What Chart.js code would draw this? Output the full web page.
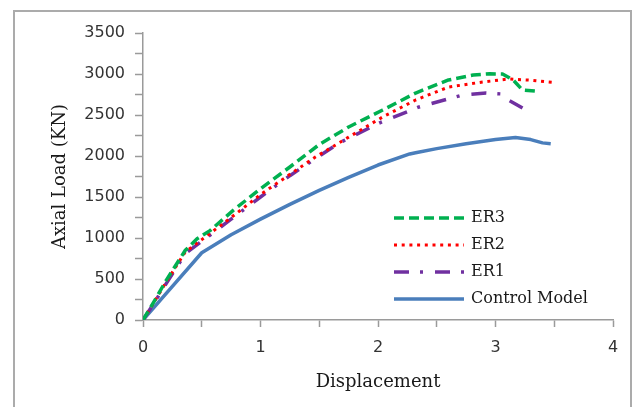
<!DOCTYPE html>
<html>
<head>
<meta charset="utf-8">
<script src="https://cdn.jsdelivr.net/npm/chart.js@4.4.1/dist/chart.umd.min.js"></script>
<style>
  html, body { margin: 0; padding: 0; background: #fff; }
  #wrap { position: relative; width: 636px; height: 407px; overflow: hidden; }
  #frame { position: absolute; left: 13px; top: 10px; width: 619px; height: 420px; border: 2px solid #ababab; box-sizing: border-box; }
  #c { position: absolute; left: 0; top: 0; }
</style>
</head>
<body>
<div id="wrap">
  <div id="frame"></div>
  <canvas id="c" width="636" height="407"></canvas>
</div>
<script>
// values
const er3X = [0, 0.1, 0.2, 0.36, 0.46, 0.57, 0.77, 1.0, 1.25, 1.5, 1.75, 2.04, 2.32, 2.6, 2.81, 2.95, 3.06, 3.15, 3.23, 3.35];
const er3Y = [0, 240, 490, 850, 990, 1090, 1340, 1600, 1866, 2140, 2354, 2561, 2768, 2927, 2988, 3002, 3000, 2927, 2805, 2790];

const er2X = [0, 0.1, 0.2, 0.36, 0.5, 0.75, 1.0, 1.28, 1.47, 1.75, 2.04, 2.32, 2.6, 2.89, 3.11, 3.3, 3.48];
const er2Y = [0, 230, 470, 830, 980, 1250, 1530, 1805, 1990, 2230, 2476, 2683, 2841, 2902, 2939, 2925, 2900];

const er1X = [0, 0.1, 0.2, 0.36, 0.5, 0.75, 1.0, 1.25, 1.5, 1.67, 2.01, 2.35, 2.72, 2.92, 3.06, 3.11, 3.23];
const er1Y = [0, 220, 450, 810, 960, 1230, 1500, 1760, 2000, 2159, 2402, 2598, 2744, 2768, 2756, 2683, 2585];

const ctrlX = [0, 0.25, 0.5, 0.75, 1.0, 1.25, 1.5, 1.75, 2.0, 2.27, 2.32, 2.5, 2.75, 3.0, 3.17, 3.3, 3.4, 3.47];
const ctrlY = [0, 410, 820, 1040, 1230, 1410, 1580, 1740, 1890, 2025, 2040, 2090, 2150, 2200, 2225, 2200, 2160, 2150];

const seriesNames = ['ER3', 'ER2', 'ER1', 'Control Model'];

function pts(xs, ys) {
  return xs.map((x, i) => ({ x: x, y: ys[i] }));
}

// legend drawn inside the plot, like the original
const innerLegend = {
  id: 'innerLegend',
  afterDatasetsDraw(chart) {
    const ctx = chart.ctx;
    ctx.save();
    ctx.font = '16px "DejaVu Serif"';
    ctx.textBaseline = 'middle';
    chart.data.datasets.forEach((ds, i) => {
      const y = 218 + i * 27;
      ctx.strokeStyle = ds.borderColor;
      ctx.lineWidth = ds.borderWidth;
      ctx.setLineDash(ds.borderDash || []);
      ctx.beginPath();
      ctx.moveTo(394, y);
      ctx.lineTo(464, y);
      ctx.stroke();
      ctx.setLineDash([]);
      ctx.fillStyle = '#1a1a1a';
      ctx.fillText(ds.label, 471, y);
    });
    ctx.restore();
  }
};

const axisGray = '#9a9a9a';

new Chart(document.getElementById('c'), {
  type: 'scatter',
  data: {
    datasets: [
      { label: seriesNames[0], data: pts(er3X, er3Y), borderColor: '#00B050', borderWidth: 3.5, borderDash: [10, 5] },
      { label: seriesNames[1], data: pts(er2X, er2Y), borderColor: '#FF0000', borderWidth: 3, borderDash: [3, 4.7] },
      { label: seriesNames[2], data: pts(er1X, er1Y), borderColor: '#7030A0', borderWidth: 3.5, borderDash: [15, 11, 3, 12] },
      { label: seriesNames[3], data: pts(ctrlX, ctrlY), borderColor: '#4A7EBB', borderWidth: 3.5 }
    ]
  },
  options: {
    responsive: false,
    animation: false,
    showLine: true,
    elements: {
      point: { radius: 0, hoverRadius: 0 },
      line: { tension: 0, fill: false, borderJoinStyle: 'round' }
    },
    layout: { padding: { left: 0, right: 23, top: 33, bottom: 0 } },
    plugins: { legend: { display: false }, tooltip: { enabled: false } },
    scales: {
      x: {
        type: 'linear',
        min: 0, max: 4,
        afterFit: s => { s.height = 87; },
        border: { color: axisGray, width: 1.5 },
        grid: { drawOnChartArea: false, tickLength: 7, color: axisGray, tickWidth: 1.5 },
        ticks: {
          stepSize: 0.5, autoSkip: false, padding: 11, color: '#333',
          font: { family: 'DejaVu Sans', size: 16 },
          callback: v => (Number.isInteger(v) ? v : '')
        },
        title: {
          display: true, text: 'Displacement', color: '#1a1a1a',
          font: { family: 'DejaVu Serif', size: 18 },
          padding: { top: 0, bottom: 14 }
        }
      },
      y: {
        type: 'linear',
        min: 0, max: 3500,
        afterFit: s => { s.width = 143; },
        border: { color: axisGray, width: 1.5 },
        grid: { drawOnChartArea: false, tickLength: 8, color: axisGray, tickWidth: 1.5 },
        ticks: {
          stepSize: 250, autoSkip: false, padding: 10, color: '#333',
          font: { family: 'DejaVu Sans', size: 16 },
          callback: v => (v % 500 === 0 ? v : '')
        },
        title: {
          display: true, text: 'Axial Load (KN)', color: '#1a1a1a',
          font: { family: 'DejaVu Serif', size: 18 },
          padding: { top: 50, bottom: 0 }
        }
      }
    }
  },
  plugins: [innerLegend]
});
</script>
</body>
</html>
